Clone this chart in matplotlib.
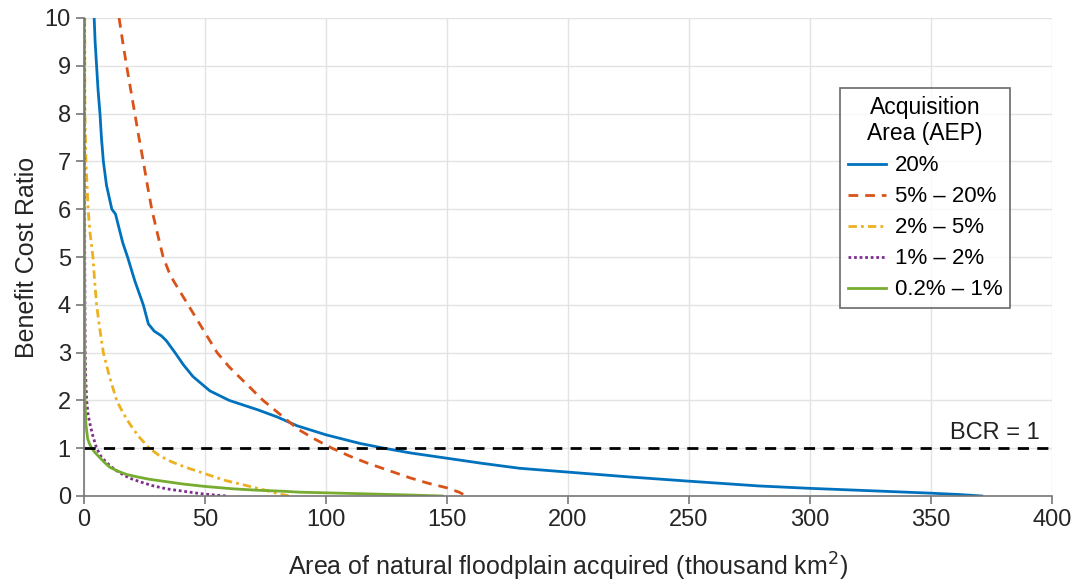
import numpy as np
import matplotlib.pyplot as plt

plt.rcParams['font.family'] = ['Liberation Sans', 'DejaVu Sans']

# values (x: thousand km2, y: benefit cost ratio)
x_20 = [4.2, 4.6, 5.2, 5.8, 6.6, 7.2, 8.0, 9.3, 11.5, 13.0, 14.5, 16.0, 18.0, 21.0, 24.5, 26.6,
        29.0, 32.0, 34.0, 37.6, 41.0, 45.0, 52.0, 60.0, 66.0, 72.0, 80.0, 88.0, 100.0, 114.0,
        124.0, 135.0, 150.0, 165.0, 180.0, 200.0, 225.0, 250.0, 279.0, 300.0, 325.0, 349.6,
        362.0, 371.0]
y_20 = [10.0, 9.5, 9.0, 8.5, 8.0, 7.5, 7.0, 6.5, 6.0, 5.9, 5.6, 5.3, 5.0, 4.5, 4.0, 3.6,
        3.45, 3.35, 3.25, 3.0, 2.75, 2.5, 2.2, 2.0, 1.9, 1.8, 1.65, 1.47, 1.28, 1.1,
        1.0, 0.9, 0.79, 0.68, 0.58, 0.5, 0.4, 0.31, 0.21, 0.16, 0.11, 0.06,
        0.03, 0.0]

x_5_20 = [14.5, 16.0, 17.6, 19.3, 21.0, 22.7, 24.5, 26.2, 28.0, 30.3, 32.7, 35.0, 37.0, 40.0,
          43.0, 49.0, 55.0, 60.0, 65.0, 74.0, 80.0, 86.0, 89.0, 95.0, 102.5, 110.0, 117.0,
          125.0, 134.7, 142.0, 150.0, 155.0, 158.0]
y_5_20 = [10.0, 9.5, 9.0, 8.5, 8.0, 7.5, 7.0, 6.5, 6.0, 5.5, 5.0, 4.7, 4.5, 4.25,
          4.0, 3.5, 3.0, 2.7, 2.45, 2.0, 1.75, 1.5, 1.38, 1.2, 1.0, 0.83, 0.69,
          0.55, 0.38, 0.27, 0.17, 0.08, 0.0]

x_2_5 = [0.3, 0.4, 0.8, 1.7, 2.5, 3.7, 4.4, 5.2, 6.5, 8.0, 10.5, 13.5, 16.0, 19.0, 22.5,
         27.0, 31.0, 36.0, 42.0, 48.0, 58.0, 68.6, 75.0, 80.0, 85.0]
y_2_5 = [10.0, 8.0, 7.0, 6.0, 5.5, 5.0, 4.5, 4.0, 3.5, 3.0, 2.5, 2.0, 1.75, 1.5, 1.25,
         1.0, 0.85, 0.72, 0.6, 0.5, 0.33, 0.2, 0.12, 0.05, 0.0]

x_1_2 = [0.2, 0.25, 0.3, 0.4, 0.5, 0.7, 1.1, 1.7, 2.5, 3.7, 5.2, 7.0, 9.3, 12.5, 16.0, 19.0,
         23.0, 28.0, 34.0, 41.0, 48.0, 54.0, 59.0]
y_1_2 = [10.0, 7.0, 5.0, 4.0, 3.0, 2.5, 2.0, 1.7, 1.5, 1.25, 1.0, 0.83, 0.7, 0.56, 0.45, 0.37,
         0.3, 0.22, 0.15, 0.1, 0.05, 0.02, 0.0]

x_02_1 = [0.1, 0.15, 0.2, 0.3, 0.4, 0.8, 1.5, 2.2, 3.2, 4.7, 6.6, 8.5, 10.7, 14.0, 17.6, 22.0,
          27.0, 34.0, 41.0, 50.0, 61.6, 72.0, 82.0, 89.0, 105.0, 120.0, 135.0, 148.0]
y_02_1 = [10.0, 7.0, 5.0, 3.0, 2.0, 1.5, 1.2, 1.1, 1.0, 0.9, 0.8, 0.7, 0.6, 0.52, 0.45, 0.4,
          0.35, 0.3, 0.25, 0.2, 0.15, 0.12, 0.1, 0.08, 0.06, 0.04, 0.02, 0.0]

labels = ['20%', '5% \u2013 20%', '2% \u2013 5%', '1% \u2013 2%', '0.2% \u2013 1%']
colors = ['#0072BD', '#D95319', '#EDB120', '#7E2F8E', '#77AC30']
styles = ['-', (0, (3.5, 2.5)), (0, (3, 1.5, 1, 1.5)), (0, (1, 1)), '-']

fig = plt.figure(figsize=(10.76, 5.86), dpi=100)
ax = fig.add_axes([84 / 1076, 90 / 586, 968 / 1076, 478 / 586])

series = [(x_20, y_20), (x_5_20, y_5_20), (x_2_5, y_2_5), (x_1_2, y_1_2), (x_02_1, y_02_1)]
lines = []
for (xs, ys), c, ls, lab in zip(series, colors, styles, labels):
    l, = ax.plot(xs, ys, color=c, linestyle=ls, linewidth=2, label=lab)
    lines.append(l)

ax.axhline(1, color='black', linestyle=(0, (4, 3)), linewidth=2)
ax.text(395, 1.08, 'BCR = 1', ha='right', va='bottom', fontsize=17, color='#222222')

ax.set_xlim(0, 400)
ax.set_ylim(0, 10)
ax.set_xticks(np.arange(0, 401, 50))
ax.set_yticks(np.arange(0, 11, 1))
ax.grid(True, color='#e3e3e3', linewidth=1)
ax.set_axisbelow(True)
for s in ['top', 'right']:
    ax.spines[s].set_visible(False)
for s in ['left', 'bottom']:
    ax.spines[s].set_color('#777777')
    ax.spines[s].set_linewidth(1.2)
ax.tick_params(direction='out', length=6, width=1.2, color='#777777', labelsize=17,
               labelcolor='#262626')
ax.set_xlabel('Area of natural floodplain acquired (thousand km$^2$)', fontsize=18,
              color='#262626', labelpad=14)
ax.set_ylabel('Benefit Cost Ratio', fontsize=18, color='#262626', labelpad=4)

leg = ax.legend(handles=lines, title='Acquisition\nArea (AEP)', loc='upper right',
                bbox_to_anchor=(0.9566, 0.8536), borderaxespad=0, fontsize=16,
                title_fontsize=16.5, frameon=True, fancybox=False, edgecolor='#444444',
                handlelength=1.7, handletextpad=0.4, borderpad=0.35, labelspacing=0.45)
leg.get_frame().set_linewidth(1.2)
leg.get_title().set_multialignment('center')

fig.savefig('out.png', dpi=100)
